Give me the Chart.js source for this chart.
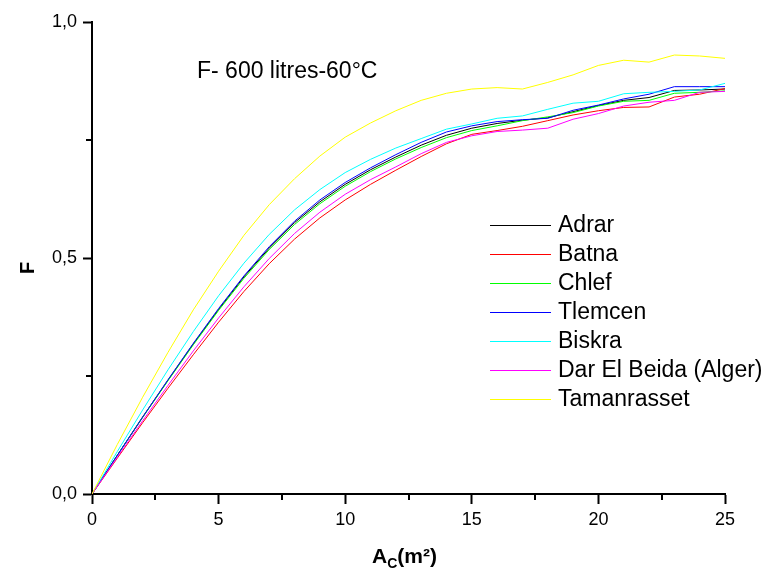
<!DOCTYPE html>
<html>
<head>
<meta charset="utf-8">
<title>F - 600 litres - 60°C</title>
<script src="https://cdn.jsdelivr.net/npm/chart.js@4.4.1/dist/chart.umd.min.js"></script>
<style>
  html, body { margin: 0; padding: 0; background: #ffffff; }
  #graficoF { display: block; }
</style>
</head>
<body>
<canvas id="graficoF" width="773" height="576"></canvas>
<script>
// Surface des capteurs A_C (m²)
const surfaces = [0, 1, 2, 3, 4, 5, 6, 7, 8, 9, 10, 11, 12, 13, 14, 15, 16, 17, 18, 19, 20, 21, 22, 23, 24, 25];

// Fraction solaire F par site
const adrar = [0, 0.082, 0.163, 0.241, 0.318, 0.391, 0.460, 0.521, 0.575, 0.619, 0.656, 0.687, 0.714, 0.739, 0.760, 0.775, 0.785, 0.792, 0.797, 0.810, 0.823, 0.834, 0.840, 0.855, 0.856, 0.858];
const batna = [0, 0.076, 0.151, 0.224, 0.295, 0.364, 0.429, 0.488, 0.540, 0.585, 0.623, 0.656, 0.686, 0.715, 0.742, 0.762, 0.770, 0.779, 0.791, 0.803, 0.812, 0.819, 0.820, 0.841, 0.847, 0.859];
const chlef = [0, 0.082, 0.162, 0.240, 0.316, 0.389, 0.457, 0.518, 0.571, 0.615, 0.652, 0.683, 0.710, 0.734, 0.755, 0.770, 0.780, 0.791, 0.799, 0.808, 0.822, 0.832, 0.834, 0.849, 0.851, 0.854];
const tlemcen = [0, 0.082, 0.163, 0.242, 0.319, 0.393, 0.462, 0.524, 0.578, 0.623, 0.660, 0.691, 0.719, 0.745, 0.767, 0.780, 0.789, 0.793, 0.796, 0.813, 0.824, 0.837, 0.847, 0.863, 0.863, 0.863];
const biskra = [0, 0.090, 0.178, 0.263, 0.344, 0.420, 0.489, 0.550, 0.602, 0.645, 0.681, 0.709, 0.733, 0.753, 0.773, 0.784, 0.796, 0.801, 0.815, 0.828, 0.832, 0.848, 0.851, 0.853, 0.856, 0.870];
const darElBeida = [0, 0.078, 0.155, 0.230, 0.303, 0.373, 0.439, 0.499, 0.552, 0.597, 0.635, 0.666, 0.693, 0.721, 0.745, 0.759, 0.768, 0.771, 0.775, 0.794, 0.806, 0.822, 0.830, 0.834, 0.851, 0.853];
const tamanrasset = [0, 0.105, 0.205, 0.300, 0.390, 0.472, 0.548, 0.613, 0.668, 0.716, 0.756, 0.786, 0.812, 0.834, 0.849, 0.858, 0.861, 0.858, 0.872, 0.888, 0.908, 0.919, 0.915, 0.930, 0.928, 0.923];

const sites = ['Adrar', 'Batna', 'Chlef', 'Tlemcen', 'Biskra', 'Dar El Beida (Alger)', 'Tamanrasset'];
const seriesF = [adrar, batna, chlef, tlemcen, biskra, darElBeida, tamanrasset];
const couleurs = ['#000000', '#ff0000', '#00ff00', '#0000ff', '#00ffff', '#ff00ff', '#ffff00'];

// Graduations
const xMajorStep = 5;
const xMinorTicks = [2.5, 7.5, 12.5, 17.5, 22.5];
const yMajorStep = 0.5;
const yMinorTicks = [0.25, 0.75];

const titreGraphe = 'F- 600 litres-60°C';
const police = "'Liberation Sans', Arial, sans-serif";

// Légende, titre interne, titres d'axes et petites graduations
const decorations = {
  id: 'decorations',
  afterDraw(chart) {
    const ctx = chart.ctx;
    const area = chart.chartArea;
    const sx = chart.scales.x;
    const sy = chart.scales.y;
    ctx.save();

    // petites graduations
    ctx.strokeStyle = '#000';
    ctx.lineWidth = 2;
    ctx.beginPath();
    xMinorTicks.forEach(v => {
      const px = Math.round(sx.getPixelForValue(v));
      ctx.moveTo(px, area.bottom);
      ctx.lineTo(px, area.bottom + 6);
    });
    yMinorTicks.forEach(v => {
      const py = Math.round(sy.getPixelForValue(v));
      ctx.moveTo(area.left, py);
      ctx.lineTo(area.left - 6, py);
    });
    ctx.stroke();

    // titre dans le graphe
    ctx.fillStyle = '#000';
    ctx.font = '23px ' + police;
    ctx.textAlign = 'left';
    ctx.textBaseline = 'middle';
    ctx.fillText(titreGraphe, area.left + 105, area.top + 50);

    // légende
    const lx = area.right - 235;
    const ly = area.top + 203;
    chart.data.datasets.forEach((ds, i) => {
      const y = ly + i * 29;
      ctx.strokeStyle = ds.borderColor;
      ctx.lineWidth = 1;
      ctx.beginPath();
      ctx.moveTo(lx, y + 0.5);
      ctx.lineTo(lx + 61, y + 0.5);
      ctx.stroke();
      ctx.fillStyle = '#000';
      ctx.fillText(ds.label, lx + 68, y + 1);
    });

    // titre axe Y
    ctx.save();
    ctx.translate(28, area.top + 246);
    ctx.rotate(-Math.PI / 2);
    ctx.font = 'bold 20px ' + police;
    ctx.textAlign = 'center';
    ctx.fillText('F', 0, 0);
    ctx.restore();

    // titre axe X : A_C(m²)
    const fMain = 'bold 21px ' + police;
    const fSub = 'bold 14px ' + police;
    ctx.font = fMain;
    const wA = ctx.measureText('A').width;
    const wReste = ctx.measureText('(m²)').width;
    ctx.font = fSub;
    const wC = ctx.measureText('C').width;
    const total = wA + wC + wReste;
    const x0 = (area.left + area.right) / 2 - total / 2 - 4;
    const base = 563;
    ctx.textAlign = 'left';
    ctx.textBaseline = 'alphabetic';
    ctx.font = fMain;
    ctx.fillText('A', x0, base);
    ctx.font = fSub;
    ctx.fillText('C', x0 + wA, base + 5);
    ctx.font = fMain;
    ctx.fillText('(m²)', x0 + wA + wC, base);

    ctx.restore();
  }
};

const datasets = sites.map((nom, i) => ({
  label: nom,
  data: surfaces.map((s, k) => ({ x: s, y: seriesF[i][k] })),
  borderColor: couleurs[i],
  backgroundColor: couleurs[i],
  borderWidth: 1,
  pointRadius: 0,
  tension: 0,
  fill: false,
  order: sites.length - i
}));

const ctx = document.getElementById('graficoF').getContext('2d');
new Chart(ctx, {
  type: 'line',
  data: { datasets: datasets },
  options: {
    responsive: false,
    animation: false,
    devicePixelRatio: 1,
    layout: { padding: { top: 22, right: 48, bottom: 0, left: 0 } },
    plugins: {
      legend: { display: false },
      tooltip: { enabled: false }
    },
    scales: {
      x: {
        type: 'linear',
        min: 0,
        max: 25,
        ticks: {
          stepSize: xMajorStep,
          color: '#000',
          padding: 5,
          maxRotation: 0,
          font: { family: police, size: 18 }
        },
        grid: {
          drawOnChartArea: false,
          drawTicks: true,
          tickLength: 10,
          tickColor: '#000',
          tickWidth: 2
        },
        border: { color: '#000', width: 2 },
        afterFit(scale) { scale.height = 82; }
      },
      y: {
        type: 'linear',
        min: 0,
        max: 1,
        ticks: {
          stepSize: yMajorStep,
          color: '#000',
          padding: 6,
          font: { family: police, size: 18 },
          callback: v => v.toFixed(1).replace('.', ',')
        },
        grid: {
          drawOnChartArea: false,
          drawTicks: true,
          tickLength: 9,
          tickColor: '#000',
          tickWidth: 2
        },
        border: { color: '#000', width: 2 },
        afterFit(scale) { scale.width = 92; }
      }
    }
  },
  plugins: [decorations]
});
</script>
</body>
</html>
